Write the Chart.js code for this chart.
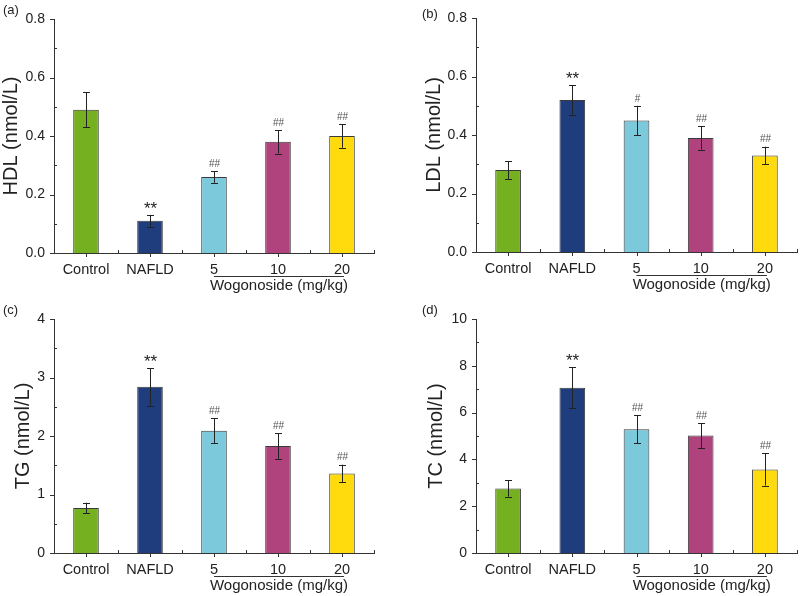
<!DOCTYPE html>
<html><head><meta charset="utf-8">
<script src="https://cdn.jsdelivr.net/npm/chart.js@4.4.1/dist/chart.umd.min.js"></script>
<style>
html,body{margin:0;padding:0;background:#fff;}
#wrap{position:relative;width:800px;height:596px;overflow:hidden;font-family:"Liberation Sans",Arial,sans-serif;}
.pn{position:absolute;}
.lbl{position:absolute;font-size:13px;color:#222;line-height:13px;}
canvas{display:block;}
</style></head><body>
<div id="wrap">
<div class="pn" style="left:0;top:0"><canvas id="cA" width="400" height="298"></canvas></div>
<div class="pn" style="left:400px;top:0"><canvas id="cB" width="400" height="298"></canvas></div>
<div class="pn" style="left:0;top:298px"><canvas id="cC" width="400" height="298"></canvas></div>
<div class="pn" style="left:400px;top:298px"><canvas id="cD" width="400" height="298"></canvas></div>
<div class="lbl" style="left:3px;top:3px">(a)</div>
<div class="lbl" style="left:422px;top:7px">(b)</div>
<div class="lbl" style="left:3px;top:303px">(c)</div>
<div class="lbl" style="left:422px;top:303px">(d)</div>
</div>
<script>
// ---- data ----
const categories = ['Control', 'NAFLD', '5', '10', '20'];
const groupLabel = 'Wogonoside (mg/kg)';
const groupFrom = 2, groupTo = 4;

const hdlMean = [0.49, 0.11, 0.26, 0.38, 0.40];
const hdlErr  = [0.06, 0.02, 0.02, 0.04, 0.04];
const hdlSig  = ['', '**', '##', '##', '##'];

const ldlMean = [0.28, 0.52, 0.45, 0.39, 0.33];
const ldlErr  = [0.03, 0.05, 0.05, 0.04, 0.03];
const ldlSig  = ['', '**', '#', '##', '##'];

const tgMean = [0.77, 2.84, 2.09, 1.83, 1.36];
const tgErr  = [0.09, 0.32, 0.21, 0.22, 0.15];
const tgSig  = ['', '**', '##', '##', '##'];

const tcMean = [2.76, 7.06, 5.29, 5.02, 3.57];
const tcErr  = [0.35, 0.87, 0.61, 0.53, 0.69];
const tcSig  = ['', '**', '##', '##', '##'];

const barColors = ['#74B01F', '#1F3D7C', '#7BC9DA', '#B0437E', '#FFDA0C'];
const FONT = '"Liberation Sans", Arial, sans-serif';
const AXIS = '#333';

const extrasPlugin = {
  id: 'extras',
  afterDatasetsDraw(chart, args, opts) {
    const ctx = chart.ctx;
    const xs = chart.scales.x, ys = chart.scales.y;
    const ca = chart.chartArea;
    const meta = chart.getDatasetMeta(0);
    ctx.save();
    // error bars
    ctx.strokeStyle = '#222';
    ctx.lineWidth = 1;
    opts.mean.forEach((m, i) => {
      const px = Math.round(meta.data[i].x) + 0.5;
      const top = ys.getPixelForValue(m + opts.err[i]);
      const bot = ys.getPixelForValue(m - opts.err[i]);
      ctx.beginPath();
      ctx.moveTo(px, top); ctx.lineTo(px, bot);
      ctx.moveTo(px - 3.5, Math.round(top) + 0.5); ctx.lineTo(px + 3.5, Math.round(top) + 0.5);
      ctx.moveTo(px - 3.5, Math.round(bot) + 0.5); ctx.lineTo(px + 3.5, Math.round(bot) + 0.5);
      ctx.stroke();
      // significance
      const s = opts.sig[i];
      if (s) {
        ctx.textAlign = 'center';
        if (s.indexOf('*') >= 0) {
          ctx.fillStyle = '#222';
          ctx.font = '17px ' + FONT;
          ctx.textBaseline = 'alphabetic';
          ctx.fillText(s, px, top - 1);
        } else {
          ctx.fillStyle = '#555';
          ctx.font = '10px ' + FONT;
          ctx.textBaseline = 'middle';
          ctx.fillText(s, px, top - 7);
        }
      }
    });
    // ticks
    ctx.strokeStyle = AXIS;
    const ax = ca.left, ab = ca.bottom;
    ctx.beginPath();
    ys.ticks.forEach(t => {
      const py = Math.round(ys.getPixelForValue(t.value)) + 0.5;
      ctx.moveTo(ax - 4, py); ctx.lineTo(ax, py);
    });
    const step = ys.options.ticks.stepSize;
    for (let v = step / 2; v < ys.max; v += step) {
      const py = Math.round(ys.getPixelForValue(v)) + 0.5;
      ctx.moveTo(ax, py); ctx.lineTo(ax + 3, py);
    }
    for (let i = 0; i < categories.length; i++) {
      const px = Math.round(xs.getPixelForValue(i)) + 0.5;
      ctx.moveTo(px, ab); ctx.lineTo(px, ab + 4);
    }
    for (let i = 1; i <= categories.length; i++) {
      const px = Math.round(xs.getPixelForValue(i - 0.5)) + 0.5;
      ctx.moveTo(px, ab); ctx.lineTo(px, ab - 3);
    }
    ctx.stroke();
    // group bracket
    const x1 = xs.getPixelForValue(groupFrom), x2 = xs.getPixelForValue(groupTo) + 2;
    ctx.strokeStyle = '#333';
    ctx.beginPath();
    ctx.moveTo(x1, Math.round(ab + 23) + 0.5); ctx.lineTo(x2, Math.round(ab + 23) + 0.5);
    ctx.stroke();
    ctx.fillStyle = '#222';
    ctx.font = '15px ' + FONT;
    ctx.textAlign = 'center';
    ctx.textBaseline = 'middle';
    ctx.fillText(groupLabel, (x1 + x2) / 2, ab + 33);
    ctx.restore();
  }
};

function makeChart(id, title, mean, err, sig, max, step, pad, yWidth, xHeight) {
  return new Chart(document.getElementById(id), {
    type: 'bar',
    data: {
      labels: categories,
      datasets: [{
        data: mean,
        backgroundColor: barColors,
        borderColor: '#3a3a3a',
        borderWidth: 1,
        barPercentage: 0.4,
        categoryPercentage: 1.0
      }]
    },
    options: {
      responsive: false,
      animation: false,
      devicePixelRatio: 1,
      layout: { padding: pad },
      plugins: {
        legend: { display: false },
        tooltip: { enabled: false },
        extras: { mean: mean, err: err, sig: sig }
      },
      scales: {
        x: {
          offset: true,
          grid: { display: false, drawTicks: false, tickLength: 0 },
          border: { display: true, color: AXIS, width: 1 },
          ticks: { color: '#222', font: { family: FONT, size: 14.5 }, padding: 8, maxRotation: 0, autoSkip: false },
          afterFit(s) { s.height = xHeight; }
        },
        y: {
          min: 0, max: max,
          grid: { display: false, drawTicks: false, tickLength: 0 },
          border: { display: true, color: AXIS, width: 1 },
          ticks: {
            stepSize: step,
            color: '#222',
            font: { family: FONT, size: 14 },
            padding: 9,
            callback: v => (step < 1 ? v.toFixed(1) : String(v))
          },
          title: { display: true, text: title, color: '#222', padding: 0, font: { family: FONT, size: 20, lineHeight: 1.1 } },
          afterFit(s) { s.width = yWidth; }
        }
      }
    },
    plugins: [extrasPlugin]
  });
}

makeChart('cA', 'HDL (nmol/L)', hdlMean, hdlErr, hdlSig, 0.8, 0.2, { left: 0, top: 19, right: 26, bottom: 0 }, 54, 45);
makeChart('cB', 'LDL (nmol/L)', ldlMean, ldlErr, ldlSig, 0.8, 0.2, { left: 23, top: 18, right: 3, bottom: 0 }, 53, 46);
makeChart('cC', 'TG (nmol/L)', tgMean, tgErr, tgSig, 4, 1, { left: 12, top: 21, right: 26, bottom: 0 }, 42, 43);
makeChart('cD', 'TC (nmol/L)', tcMean, tcErr, tcSig, 10, 2, { left: 25, top: 21, right: 3, bottom: 0 }, 51, 43);
</script>
</body></html>
